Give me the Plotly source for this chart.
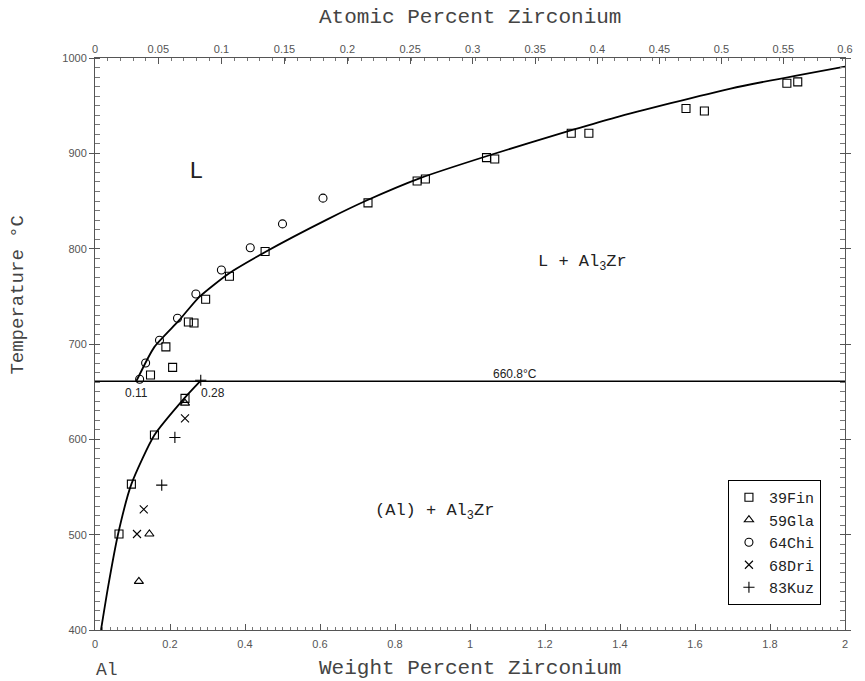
import plotly.graph_objects as go

# ---------------- data ----------------
# Liquidus curve (wt% Zr, T in C)
liq_wt = [0.11, 0.1585, 0.2246, 0.277, 0.357, 0.454, 0.621, 0.727, 0.867, 1.052, 1.273, 1.387, 1.695, 2.0]
liq_T = [660.8, 697, 725, 749, 774, 796.5, 831, 851, 874, 898, 924.5, 937.5, 968, 991]

# Solvus curve
sol_wt = [0.28, 0.238, 0.1585, 0.097, 0.0616, 0.035, 0.016]
sol_T = [660.8, 643, 604.5, 553, 500.7, 445.5, 400]

# Invariant (peritectic) line
inv_wt = [0.0, 2.0]
inv_T = [660.8, 660.8]

# Experimental data
fin_wt = [0.064, 0.097, 0.1585, 0.240, 0.148, 0.207, 0.189, 0.249, 0.264, 0.295, 0.3585, 0.4536,
          0.728, 0.859, 0.881, 1.044, 1.066, 1.270, 1.317, 1.576, 1.625, 1.845, 1.874]
fin_T = [500.7, 553, 604.5, 643, 667.5, 675.5, 697, 723, 722, 747, 771, 797,
         848, 871, 873, 895.5, 894, 921, 921, 947, 944.4, 973.5, 975]

gla_wt = [0.145, 0.117, 0.240]
gla_T = [500.7, 451, 638]

chi_wt = [0.119, 0.135, 0.172, 0.220, 0.269, 0.337, 0.414, 0.500, 0.608]
chi_T = [663, 680, 704, 727, 752.4, 777.6, 801, 826, 853]

dri_wt = [0.112, 0.130, 0.240]
dri_T = [500.7, 526.6, 622]

kuz_wt = [0.213, 0.178, 0.282]
kuz_T = [602, 552, 662]

# Axis ticks
wt_ticks = [0, 0.2, 0.4, 0.6, 0.8, 1, 1.2, 1.4, 1.6, 1.8, 2]
wt_ticktext = ["0", "0.2", "0.4", "0.6", "0.8", "1", "1.2", "1.4", "1.6", "1.8", "2"]
at_ticks = [0, 0.05, 0.1, 0.15, 0.2, 0.25, 0.3, 0.35, 0.4, 0.45, 0.5, 0.55, 0.6]
at_ticktext = ["0", "0.05", "0.1", "0.15", "0.2", "0.25", "0.3", "0.35", "0.4", "0.45", "0.5", "0.55", "0.6"]
T_ticks = [400, 500, 600, 700, 800, 900, 1000]

M_ZR = 91.224
M_AL = 26.9815


def at_to_wt(a):
    return 100.0 * a * M_ZR / (a * M_ZR + (100.0 - a) * M_AL)


at_tickpos = [at_to_wt(a) for a in at_ticks]

# ---------------- figure ----------------
SERIF_MONO = "Liberation Mono, Courier New, monospace"
SANS = "Liberation Sans, Arial, sans-serif"

fig = go.Figure()

line_style = dict(color="black", width=1.8)
fig.add_trace(go.Scatter(x=liq_wt, y=liq_T, mode="lines", line=dict(**line_style, shape="spline", smoothing=0.6),
                         showlegend=False, hoverinfo="skip"))
fig.add_trace(go.Scatter(x=sol_wt, y=sol_T, mode="lines", line=dict(**line_style, shape="spline", smoothing=0.6),
                         showlegend=False, hoverinfo="skip"))
fig.add_trace(go.Scatter(x=inv_wt, y=inv_T, mode="lines", line=dict(color="black", width=1.5),
                         xaxis="x2", showlegend=False, hoverinfo="skip"))

mk = dict(color="black", line=dict(color="black", width=1.1))
fig.add_trace(go.Scatter(x=fin_wt, y=fin_T, mode="markers", name="39Fin",
                         marker=dict(symbol="square-open", size=8, **mk)))
fig.add_trace(go.Scatter(x=gla_wt, y=gla_T, mode="markers", name="59Gla",
                         marker=dict(symbol="triangle-up-open", size=8, **mk)))
fig.add_trace(go.Scatter(x=chi_wt, y=chi_T, mode="markers", name="64Chi",
                         marker=dict(symbol="circle-open", size=8, **mk)))
fig.add_trace(go.Scatter(x=dri_wt, y=dri_T, mode="markers", name="68Dri",
                         marker=dict(symbol="x-thin-open", size=8, **mk)))
fig.add_trace(go.Scatter(x=kuz_wt, y=kuz_T, mode="markers", name="83Kuz",
                         marker=dict(symbol="cross-thin-open", size=8, **mk)))

axis_common = dict(showline=True, linecolor="#555", linewidth=1, showgrid=False, zeroline=False,
                   tickfont=dict(family=SANS, size=11, color="#555"), tickcolor="#555")

fig.update_layout(
    width=865, height=681,
    margin=dict(l=95, r=14, t=58, b=51),
    paper_bgcolor="white", plot_bgcolor="white",
    xaxis=dict(range=[0, 2], tickvals=wt_ticks, ticktext=wt_ticktext, ticks="inside", ticklen=6,
               ticklabelstandoff=4,
               minor=dict(dtick=0.02, tick0=0, ticks="inside", ticklen=3, tickcolor="#777"),
               **axis_common),
    xaxis2=dict(range=[0, 2], overlaying="x", side="top", anchor="y", tickvals=at_tickpos,
                ticktext=at_ticktext, ticks="inside", ticklen=6,
                minor=dict(dtick=at_to_wt(0.01), tick0=0, ticks="inside", ticklen=3, tickcolor="#777"),
                **axis_common),
    yaxis=dict(range=[400, 1000], tickvals=T_ticks, ticks="outside", ticklen=5, mirror="allticks",
               minor=dict(dtick=10, ticks="inside", ticklen=3, tickcolor="#777"),
               **axis_common),
    legend=dict(x=(733 - 95) / 756, y=(630 - 480) / 572, xanchor="left", yanchor="top",
                bordercolor="black", borderwidth=1, bgcolor="white",
                font=dict(family=SERIF_MONO, size=15, color="#222"), itemwidth=30),
    showlegend=True,
)

annots = [
    dict(text="Atomic Percent Zirconium", x=0.5, y=(630 - 17) / 572, font=dict(size=21, color="#444")),
    dict(text="Weight Percent Zirconium", x=0.5, y=(630 - 668) / 572, font=dict(size=21, color="#444")),
    dict(text="Temperature °C", x=(17 - 95) / 756, y=(630 - 295) / 572, textangle=-90,
         font=dict(size=19, color="#444")),
    dict(text="Al", x=(107 - 95) / 756, y=(630 - 670) / 572, font=dict(size=18, color="#444")),
]
for a in annots:
    fig.add_annotation(xref="paper", yref="paper", showarrow=False, xanchor="center", yanchor="middle",
                       font_family=SERIF_MONO, **a)

region_labels = [
    ("L", 0.268, 881, 24),
    ("L + Al<sub>3</sub>Zr", 1.30, 785, 17),
    ("(Al) + Al<sub>3</sub>Zr", 0.904, 524, 17),
]
for txt, xv, yv, fs in region_labels:
    fig.add_annotation(x=xv, y=yv, text=txt, showarrow=False,
                       font=dict(family=SERIF_MONO, size=fs, color="#222"))

point_labels = [
    ("0.11", 0.11, 649),
    ("0.28", 0.315, 649),
    ("660.8°C", 1.12, 669),
]
for txt, xv, yv in point_labels:
    fig.add_annotation(x=xv, y=yv, text=txt, showarrow=False,
                       font=dict(family=SANS, size=12, color="#222"))

fig.write_html("out.html")
